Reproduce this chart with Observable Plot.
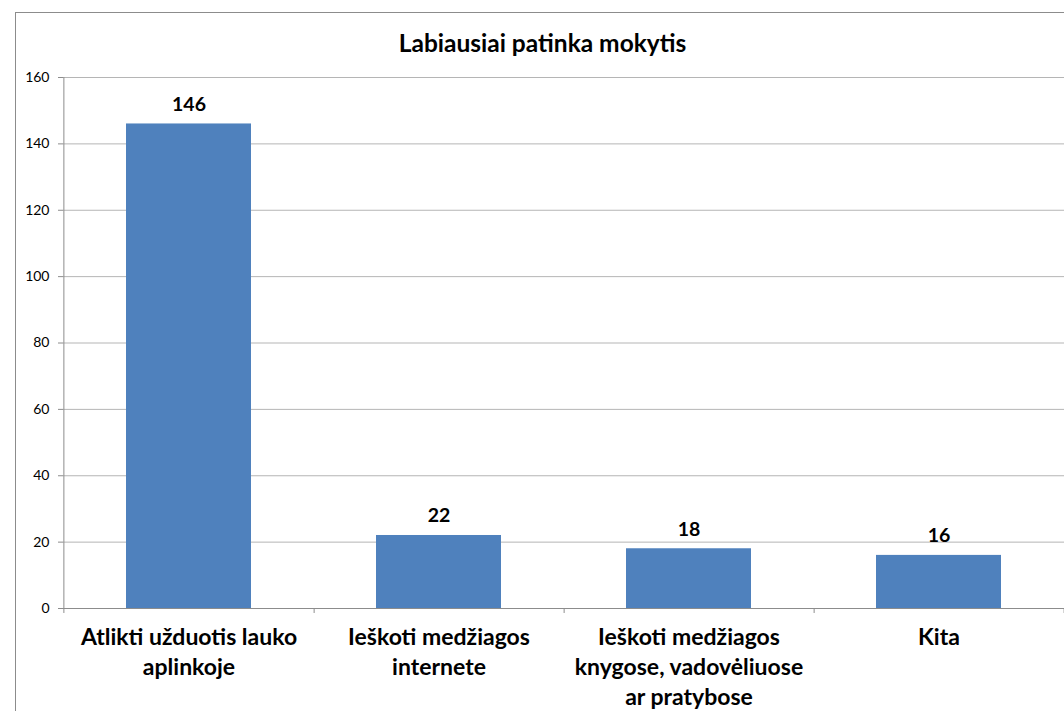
<!DOCTYPE html>
<html>
<head>
<meta charset="utf-8">
<script src="https://cdn.jsdelivr.net/npm/d3@7"></script>
<script src="https://cdn.jsdelivr.net/npm/@observablehq/plot@0.6"></script>
<style>
  html, body { margin: 0; padding: 0; background: #fff; overflow: hidden; width: 1064px; height: 711px; }
  #frame { position: absolute; left: 15px; top: 12px; width: 1100px; height: 760px; border: 1px solid #8c8c8c; box-sizing: border-box; }
  #title { position: absolute; left: 15px; width: 1055px; top: 28px; text-align: center; font-family: Lato, sans-serif; font-weight: bold; font-size: 24.5px; color: #000; }
  #chart { position: absolute; left: 0; top: 0; }
</style>
</head>
<body>
<div id="frame"></div>
<div id="title">Labiausiai patinka mokytis</div>
<div id="chart"></div>
<script>
const categories = [
  "Atlikti užduotis lauko\naplinkoje",
  "Ieškoti medžiagos\ninternete",
  "Ieškoti medžiagos\nknygose, vadovėliuose\nar pratybose",
  "Kita"
];
const values = [146, 22, 18, 16];
const yTicks = [0, 20, 40, 60, 80, 100, 120, 140, 160];

const data = categories.map((c, i) => ({category: c, value: values[i]}));

const width = 1064, height = 711;
const marginLeft = 63, marginRight = 0, marginTop = 77, marginBottom = 103;
const step = (width - marginLeft - marginRight) / categories.length;

const chart = Plot.plot({
  width, height, marginLeft, marginRight, marginTop, marginBottom,
  style: {fontFamily: "Lato, sans-serif", background: "transparent", overflow: "visible"},
  x: {domain: categories, paddingInner: 0.5, paddingOuter: 0.25},
  y: {domain: [0, 160], range: [height - marginBottom, marginTop]},
  marks: [
    Plot.gridY(yTicks, {stroke: "#b5b5b5", strokeOpacity: 1, strokeWidth: 1}),
    Plot.barY(data, {x: "category", y: "value", fill: "#4f81bd"}),
    Plot.ruleY([0], {stroke: "#8c8c8c"}),
    Plot.ruleX([categories[0]], {x: d => d, y1: 0, y2: 160, dx: -step / 2, stroke: "#8c8c8c"}),
    Plot.ruleX(categories, {x: d => d, y1: 0, y2: -1.5, dx: step / 2, stroke: "#8c8c8c"}),
    Plot.ruleX([categories[0]], {x: d => d, y1: 0, y2: -1.5, dx: -step / 2, stroke: "#8c8c8c"}),
    Plot.axisY({ticks: yTicks, tickSize: 5, tickPadding: 9, stroke: "#8c8c8c", fontSize: 14, fill: "#000", label: null, tickFormat: d => String(d)}),
    Plot.axisX({tickSize: 0, tickPadding: 15, fontSize: 23, fontWeight: "bold", fill: "#000", lineHeight: 1.31, label: null}),
    Plot.text(data, {x: "category", y: "value", text: d => String(d.value), dy: -13, lineAnchor: "bottom", fontSize: 19.5, fontWeight: "bold", fill: "#000"})
  ]
});
document.getElementById("chart").appendChild(chart);
</script>
</body>
</html>
